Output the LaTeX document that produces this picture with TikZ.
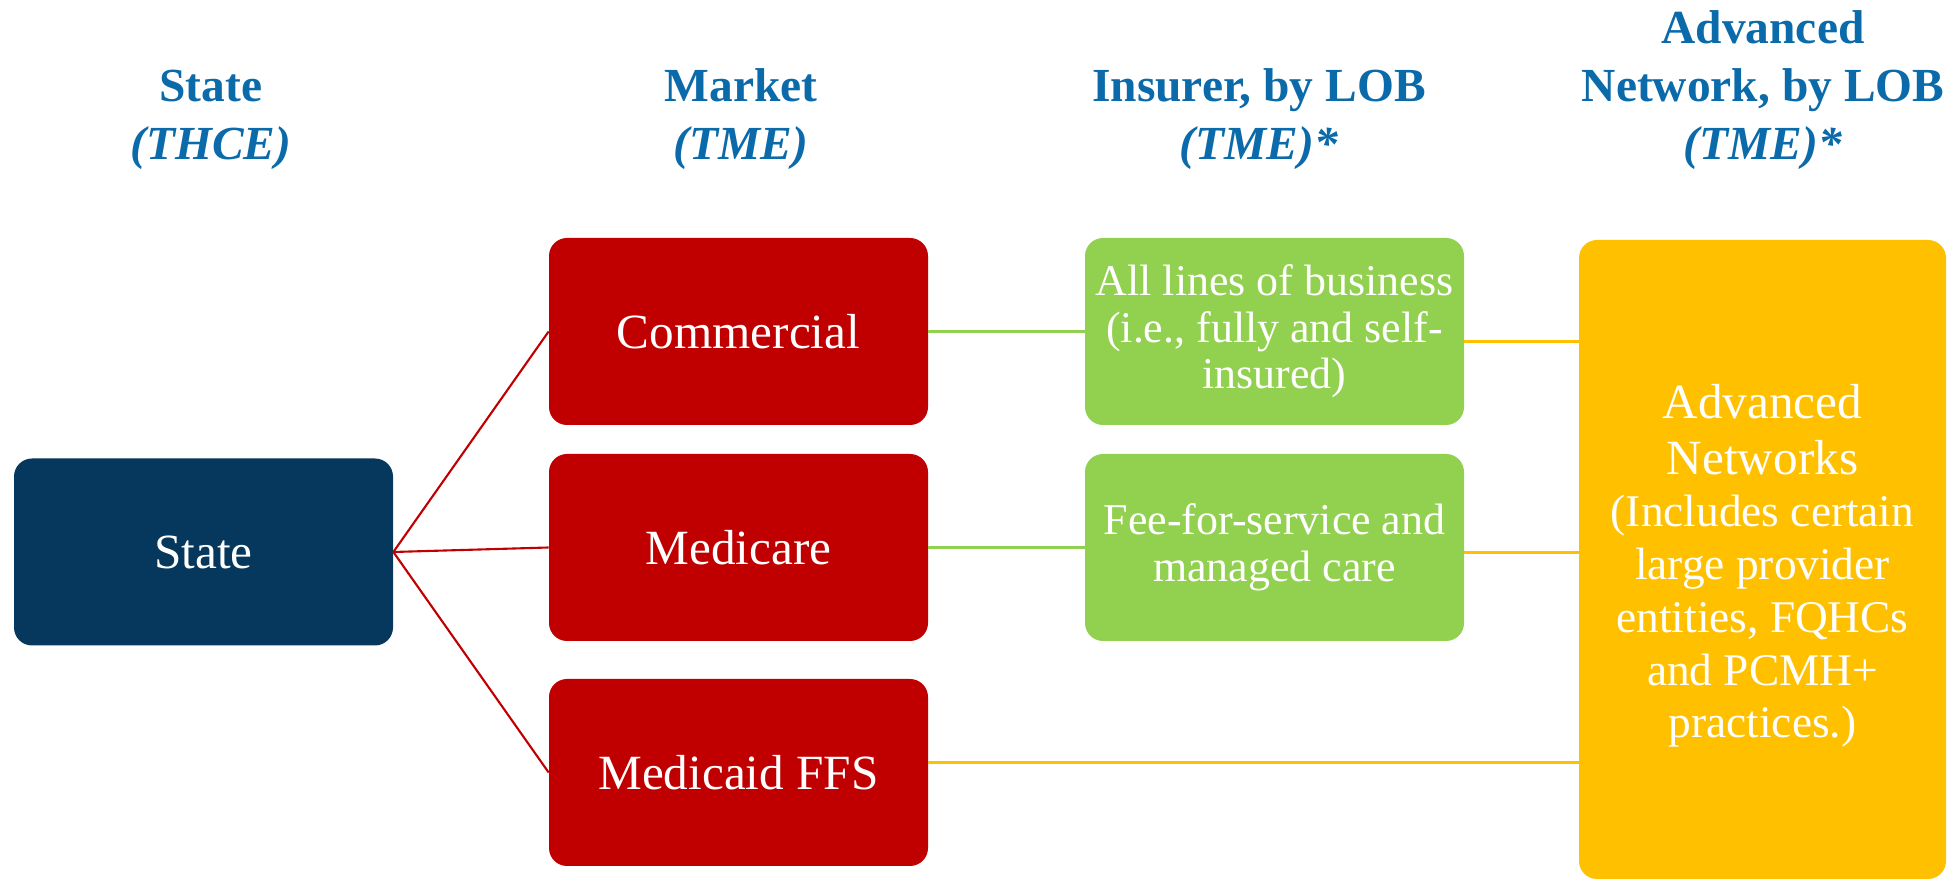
\documentclass[tikz,border=0pt]{standalone}
\usepackage{fontspec}
\setmainfont{Liberation Serif}
\usepackage{tikz}

\definecolor{headblue}{HTML}{0B6AAA}
\definecolor{statenavy}{HTML}{05385C}
\definecolor{marketred}{HTML}{C00000}
\definecolor{insgreen}{HTML}{92D050}
\definecolor{netyellow}{HTML}{FFC000}

\begin{document}
\begin{tikzpicture}[
		head/.style={anchor=south, inner sep=0pt, align=center, text=headblue,
			font={\fontsize{27}{33}\selectfont\bfseries}},
		box/.style={rounded corners=0.36cm, inner sep=0pt, align=center, text=white,
			minimum width=7.58cm, minimum height=3.74cm},
		bigtext/.style={font={\fontsize{28}{33}\selectfont}},
		smalltext/.style={font={\fontsize{25}{26.5}\selectfont}},
		link/.style={line width=1.2pt}
	]
	\useasboundingbox (0,0) rectangle (39,17.64);

	\node[head] (hstate) at (4.22,14.24) {State\\ \textit{(THCE)}};
	\node[head] (hmarket) at (14.82,14.24) {Market\\ \textit{(TME)}};
	\node[head] (hinsurer) at (25.18,14.24) {Insurer, by LOB\\ \textit{(TME)*}};
	\node[head] (hnetwork) at (35.26,14.24) {Advanced\\ Network, by LOB\\ \textit{(TME)*}};

	\node[box, bigtext, fill=statenavy] (state) at (4.07,6.6) {State};

	\node[box, bigtext, fill=marketred] (comm) at (14.77,11.01) {Commercial};
	\node[box, bigtext, fill=marketred] (medcr) at (14.77,6.69) {Medicare};
	\node[box, bigtext, fill=marketred] (mcaid) at (14.77,2.19) {Medicaid FFS};

	\node[box, smalltext, fill=insgreen] (ins1) at (25.49,11.01) {All lines of business\\ (i.e., fully and self-\\ insured)};
	\node[box, smalltext, fill=insgreen] (ins2) at (25.49,6.69) {Fee-for-service and\\ managed care};

	\node[box, fill=netyellow, minimum width=7.34cm, minimum height=12.78cm,
		font={\fontsize{25.8}{30}\selectfont}] (adv) at (35.25,6.45)
		{\rule{0pt}{27pt}{\fontsize{28}{33}\selectfont Advanced}\\[1.5pt]
		 {\fontsize{28}{33}\selectfont Networks}\\
		 (Includes certain\\ large provider\\ entities, FQHCs\\ and PCMH+\\ practices.)};

	\draw[link, marketred] (state.east) -- (comm.west);
	\draw[link, marketred] (state.east) -- (medcr.west);
	\draw[link, marketred] (state.east) -- (mcaid.west);

	\draw[link, insgreen] (comm.east) -- (ins1.west);
	\draw[link, insgreen] (medcr.east) -- (ins2.west);

	\draw[link, netyellow] ([yshift=-0.2cm]ins1.east) -- ([yshift=-0.2cm]ins1.east -| adv.west);
	\draw[link, netyellow] ([yshift=-0.1cm]ins2.east) -- ([yshift=-0.1cm]ins2.east -| adv.west);
	\draw[link, netyellow] ([yshift=0.2cm]mcaid.east) -- ([yshift=0.2cm]mcaid.east -| adv.west);
\end{tikzpicture}
\end{document}
